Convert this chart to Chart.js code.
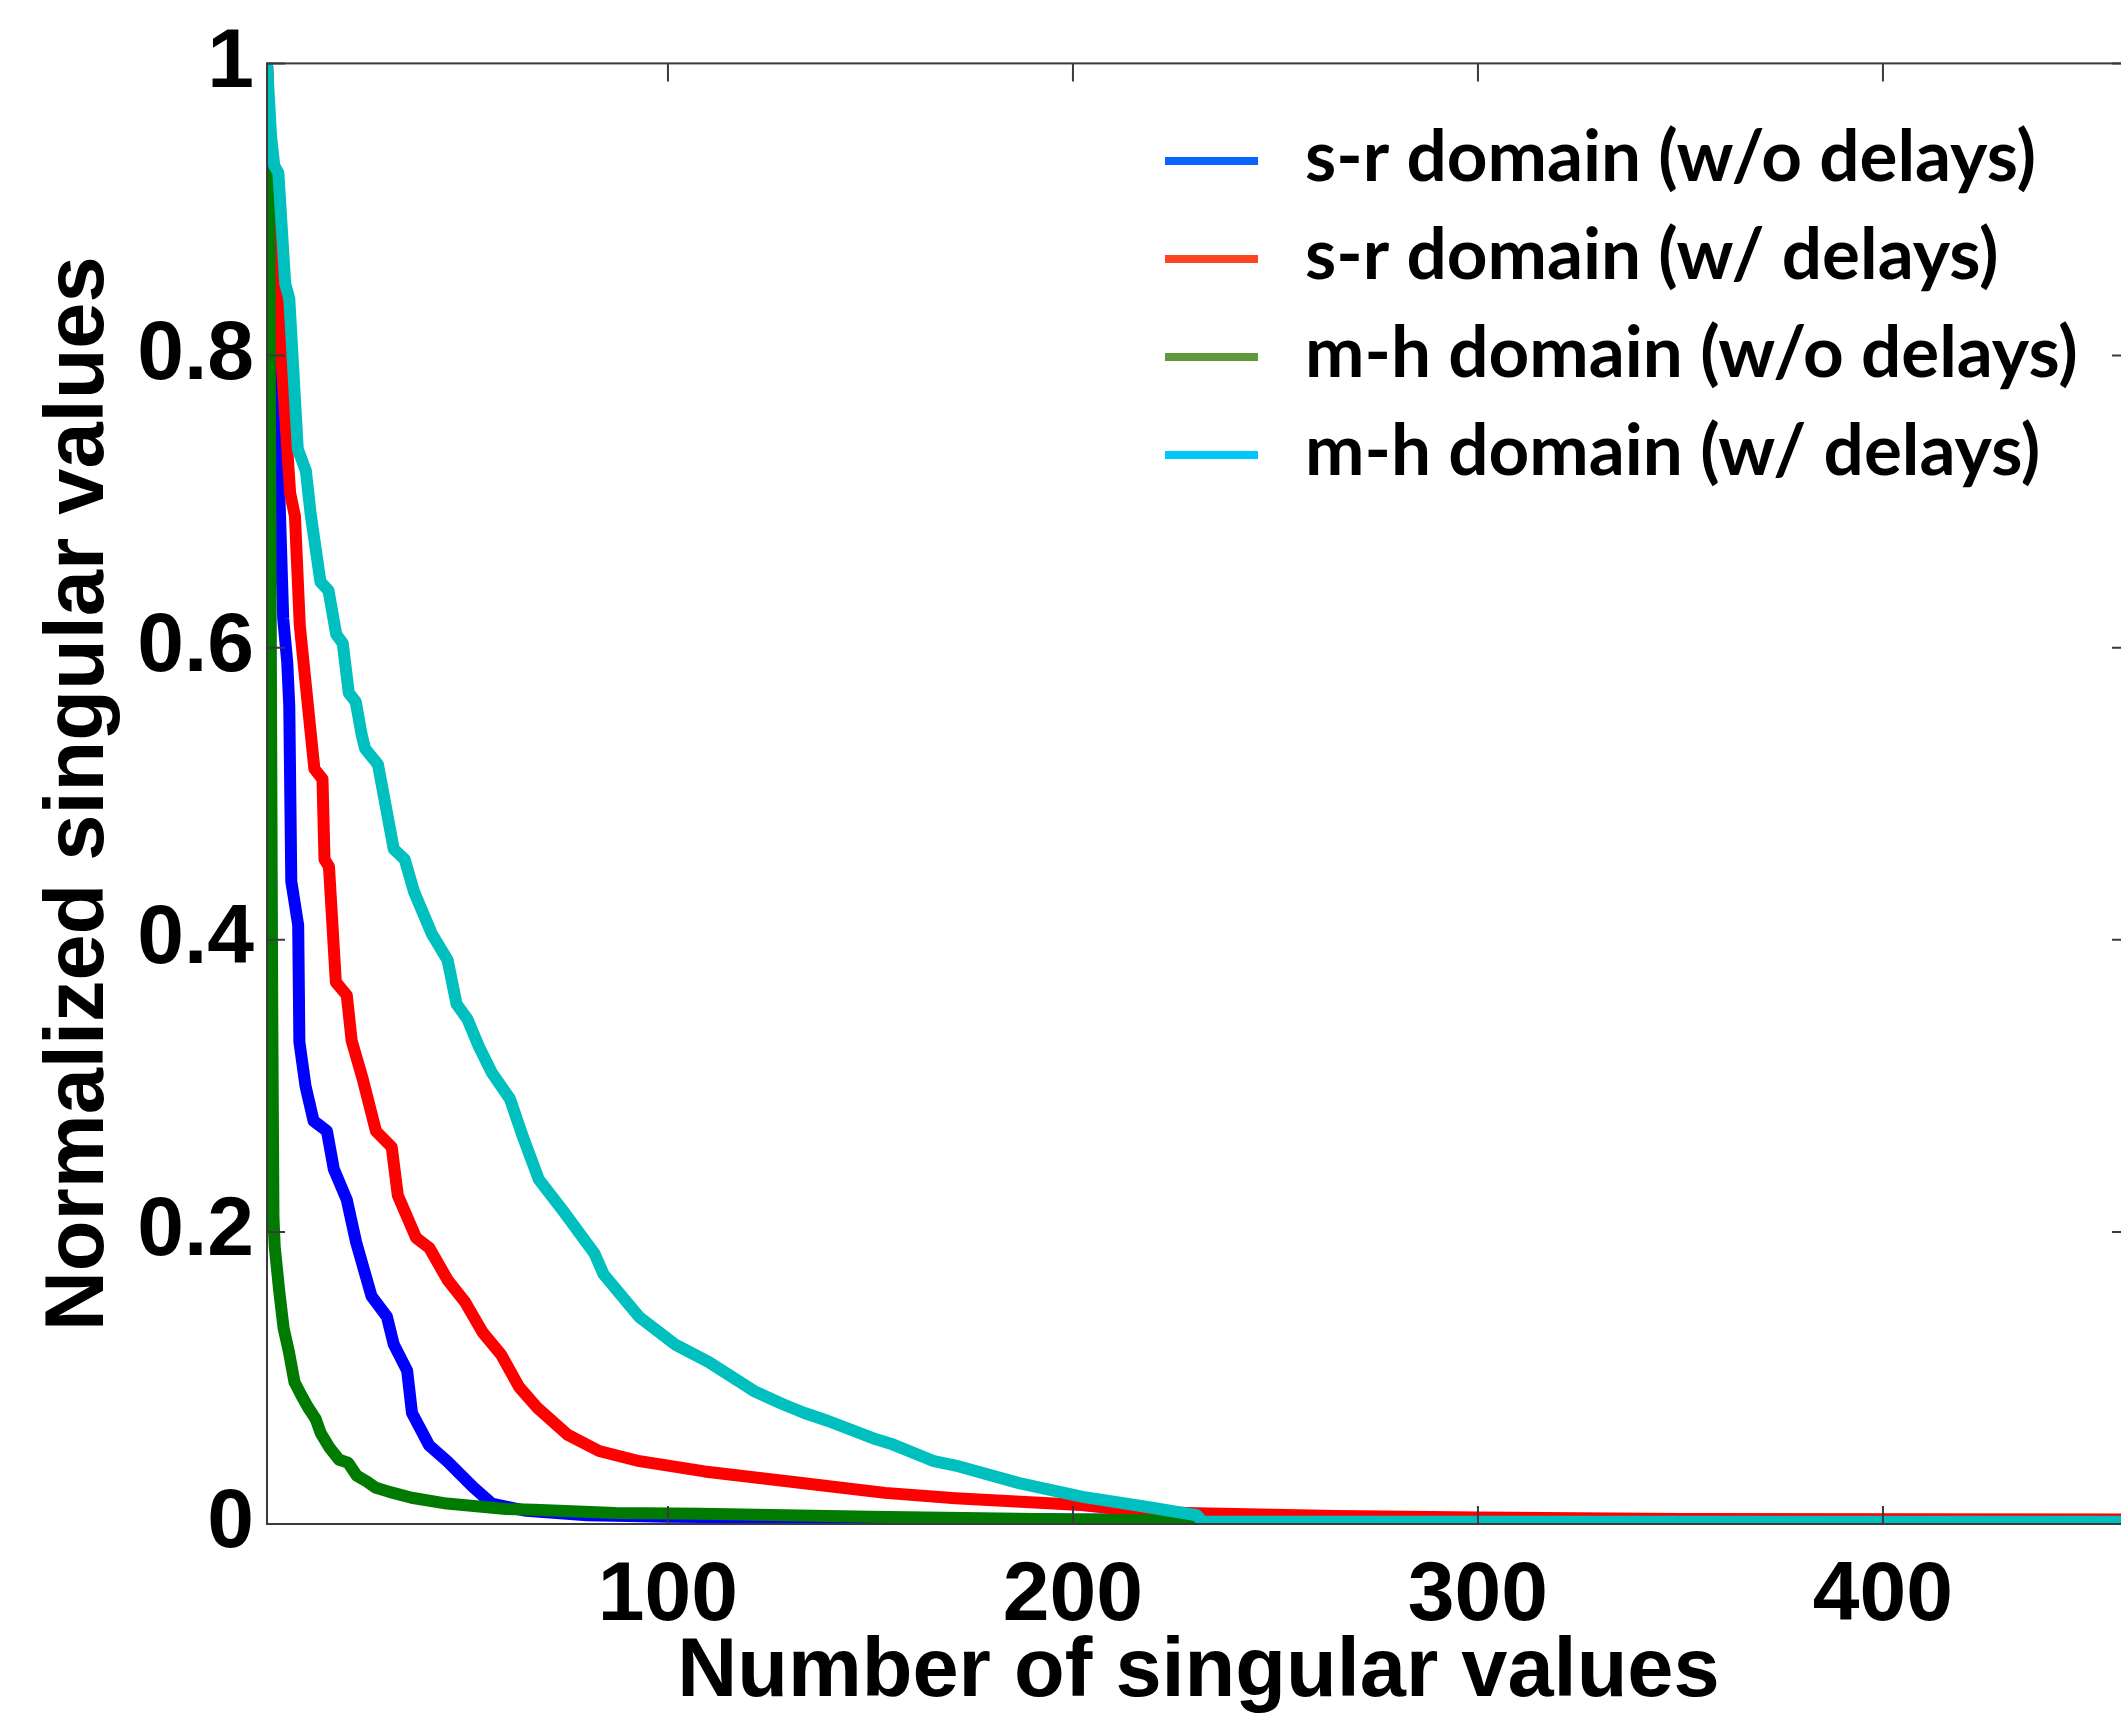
<!DOCTYPE html>
<html lang="en">
<head>
  <meta charset="UTF-8">
  <title>Normalized singular values</title>
  <script src="https://cdn.jsdelivr.net/npm/chart.js"></script>
  <style>
    html, body {
      margin: 0;
      padding: 0;
      background: #fff;
      overflow: hidden;
    }
    .wrap {
      width: 2140px;
      height: 1715px;
    }
  </style>
</head>
<body>
  <div class="wrap">
    <canvas id="chart" width="2140" height="1715"></canvas>
  </div>
  <script>
    var seriesLabels = [
      "s-r domain (w/o delays)",
      "s-r domain (w/ delays)",
      "m-h domain (w/o delays)",
      "m-h domain (w/ delays)"
    ];

    // s-r domain, no delays
    var srPlainX = [1, 2, 3, 4, 5, 6, 6.5, 7, 8.7, 9, 10.5, 12.5, 15.8, 17.5, 20.7, 23, 26.8, 30.6, 32.3, 35.6, 36.8, 41, 45.5, 52, 56.5, 65, 80, 100, 150, 200, 232, 300, 461];
    var srPlainY = [1, 0.9, 0.8, 0.71, 0.62, 0.59, 0.56, 0.44, 0.41, 0.33, 0.3, 0.276, 0.269, 0.243, 0.222, 0.193, 0.156, 0.142, 0.123, 0.105, 0.076, 0.054, 0.043, 0.025, 0.014, 0.009, 0.006, 0.005, 0.004, 0.003, 0.003, 0.002, 0.002];

    // s-r domain, with delays
    var srDelayX = [1, 2, 3.6, 5, 6.7, 7.9, 9.1, 11, 12.7, 14.7, 15.2, 16.3, 18, 20.7, 21.9, 24.6, 27.9, 31.8, 33.3, 37.8, 41.1, 45.6, 49.9, 54.3, 58.8, 63.2, 67.6, 75.3, 83, 93, 109, 131.5, 153.6, 171, 202, 218, 230.6, 265, 300, 350, 461];
    var srDelayY = [1, 0.92, 0.842, 0.78, 0.706, 0.69, 0.615, 0.563, 0.517, 0.51, 0.455, 0.45, 0.371, 0.362, 0.331, 0.305, 0.269, 0.258, 0.225, 0.196, 0.189, 0.167, 0.152, 0.131, 0.116, 0.094, 0.08, 0.061, 0.05, 0.043, 0.036, 0.0286, 0.0213, 0.0177, 0.013, 0.0084, 0.0074, 0.0054, 0.0045, 0.0035, 0.003];

    // m-h domain, no delays
    var mhPlainX = [1, 1.6, 2, 2.3, 2.6, 2.9, 4, 5.1, 6.4, 7.8, 9.5, 11.1, 13, 14.3, 16.5, 18.8, 21, 23.2, 25.7, 27.7, 31.2, 36.7, 45.4, 60, 67, 87, 108, 150, 200, 231];
    var mhPlainY = [1, 0.88, 0.56, 0.35, 0.21, 0.19, 0.16, 0.134, 0.118, 0.097, 0.088, 0.08, 0.072, 0.062, 0.052, 0.044, 0.042, 0.033, 0.029, 0.025, 0.022, 0.018, 0.014, 0.0103, 0.0097, 0.0075, 0.007, 0.005, 0.003, 0.002];

    // m-h domain, with delays
    var mhDelayX = [1, 2, 2.8, 3.8, 5.5, 6.5, 8.6, 10.6, 11.8, 14.2, 16.2, 18.1, 19.7, 21.2, 22.9, 24.4, 25.2, 28.4, 32.3, 35, 37.3, 41.7, 45.6, 47.8, 50.5, 53.3, 56.5, 61, 64.2, 68.1, 74.2, 81.9, 84.1, 93, 101.7, 110, 121.6, 128.4, 133.7, 139.4, 151.4, 155, 165.7, 171, 186.7, 202.4, 218, 230.6, 232, 461];
    var mhDelayY = [1, 0.95, 0.93, 0.925, 0.849, 0.839, 0.736, 0.721, 0.691, 0.645, 0.639, 0.609, 0.603, 0.569, 0.563, 0.54, 0.531, 0.52, 0.462, 0.455, 0.433, 0.404, 0.386, 0.356, 0.3456, 0.327, 0.309, 0.291, 0.265, 0.236, 0.214, 0.185, 0.171, 0.1415, 0.123, 0.111, 0.0905, 0.082, 0.076, 0.0707, 0.058, 0.055, 0.043, 0.04, 0.028, 0.0186, 0.0118, 0.006, 0.0016, 0.0016];

    var xTicks = [100, 200, 300, 400];
    var yTicks = [0, 0.2, 0.4, 0.6, 0.8, 1];

    var lineColors = ["#0000ff", "#ff0000", "#007a00", "#00bfbf"];
    var legendColors = ["#0a64ff", "#ff4421", "#5e9a3c", "#00c8fa"];

    function toPoints(xs, ys) {
      return xs.map(function (x, i) {
        return { x: x, y: ys[i] };
      });
    }

    // box around the plot with inward tick marks on all four sides
    var axisBox = {
      id: "axisBox",
      afterDatasetsDraw: function (chart) {
        var ctx = chart.ctx;
        var a = chart.chartArea;
        var sx = chart.scales.x;
        var sy = chart.scales.y;
        var len = 18;
        ctx.save();
        ctx.strokeStyle = "#3a3a3a";
        ctx.lineWidth = 2;
        ctx.strokeRect(a.left, a.top, a.right - a.left, a.bottom - a.top);
        ctx.beginPath();
        xTicks.forEach(function (v) {
          var px = sx.getPixelForValue(v);
          ctx.moveTo(px, a.bottom);
          ctx.lineTo(px, a.bottom - len);
          ctx.moveTo(px, a.top);
          ctx.lineTo(px, a.top + len);
        });
        yTicks.forEach(function (v) {
          var py = sy.getPixelForValue(v);
          ctx.moveTo(a.left, py);
          ctx.lineTo(a.left + len, py);
          ctx.moveTo(a.right, py);
          ctx.lineTo(a.right - len, py);
        });
        ctx.stroke();
        ctx.restore();
      }
    };

    // legend block in the upper right of the plot
    var lineLegend = {
      id: "lineLegend",
      afterDraw: function (chart, args, opts) {
        var ctx = chart.ctx;
        ctx.save();
        ctx.font = "bold " + opts.fontSize + "px Lato";
        ctx.textBaseline = "middle";
        ctx.textAlign = "left";
        seriesLabels.forEach(function (label, i) {
          var y = opts.top + i * opts.rowGap;
          ctx.strokeStyle = legendColors[i];
          ctx.lineWidth = opts.lineWidth;
          ctx.beginPath();
          ctx.moveTo(opts.left, y);
          ctx.lineTo(opts.left + opts.lineLength, y);
          ctx.stroke();
          ctx.fillStyle = "#000";
          ctx.fillText(label, opts.left + opts.textGap, y - 3);
        });
        ctx.restore();
      }
    };

    var tickFont = { family: "Liberation Sans", weight: "bold", size: 84 };
    var titleFont = { family: "Liberation Sans", weight: "bold", size: 83, lineHeight: 1 };

    var ctx = document.getElementById("chart").getContext("2d");
    var chart = new Chart(ctx, {
      type: "line",
      data: {
        datasets: [
          { label: seriesLabels[0], data: toPoints(srPlainX, srPlainY), borderColor: lineColors[0], order: 4 },
          { label: seriesLabels[1], data: toPoints(srDelayX, srDelayY), borderColor: lineColors[1], order: 3 },
          { label: seriesLabels[2], data: toPoints(mhPlainX, mhPlainY), borderColor: lineColors[2], order: 2 },
          { label: seriesLabels[3], data: toPoints(mhDelayX, mhDelayY), borderColor: lineColors[3], order: 1 }
        ]
      },
      options: {
        responsive: false,
        animation: false,
        layout: {
          padding: { top: 54, right: 10, bottom: 0, left: 0 }
        },
        elements: {
          line: { borderWidth: 12, tension: 0, fill: false, borderJoinStyle: "round" },
          point: { radius: 0, hoverRadius: 0 }
        },
        scales: {
          x: {
            type: "linear",
            min: 1,
            max: 461,
            afterFit: function (s) { s.height = 191; },
            afterBuildTicks: function (s) {
              s.ticks = xTicks.map(function (v) { return { value: v }; });
            },
            grid: { display: false, drawTicks: false },
            border: { display: false },
            ticks: {
              color: "#000",
              padding: 22,
              maxRotation: 0,
              font: tickFont,
              callback: function (v) { return String(v); }
            },
            title: {
              display: true,
              text: "Number of singular values",
              color: "#000",
              font: titleFont,
              padding: { top: 0, bottom: 0 }
            }
          },
          y: {
            type: "linear",
            min: 0,
            max: 1,
            afterFit: function (s) { s.width = 267; },
            afterBuildTicks: function (s) {
              s.ticks = yTicks.map(function (v) { return { value: v }; });
            },
            grid: { display: false, drawTicks: false },
            border: { display: false },
            ticks: {
              color: "#000",
              padding: 13,
              font: tickFont,
              callback: function (v) { return String(v); }
            },
            title: {
              display: true,
              text: "Normalized singular values",
              color: "#000",
              font: titleFont,
              padding: { top: 39, bottom: 0 }
            }
          }
        },
        plugins: {
          legend: { display: false },
          tooltip: { enabled: false },
          lineLegend: {
            left: 1165,
            top: 161,
            rowGap: 98,
            lineLength: 93,
            lineWidth: 8,
            textGap: 140,
            fontSize: 71
          }
        }
      },
      plugins: [axisBox, lineLegend]
    });
  </script>
</body>
</html>
